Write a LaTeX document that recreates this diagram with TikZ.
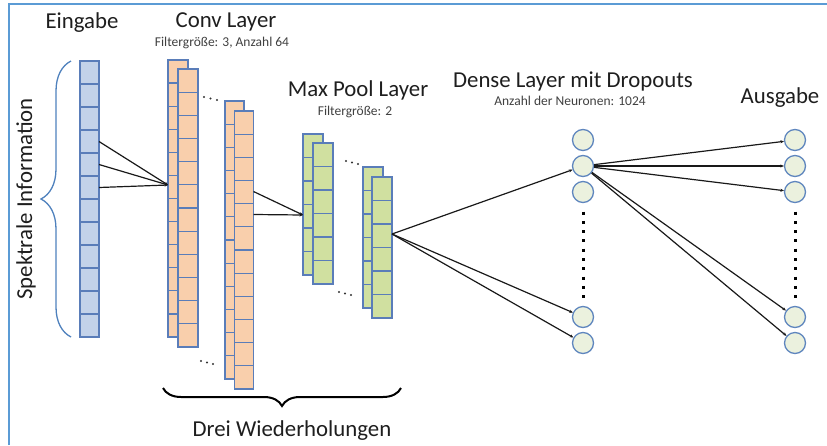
\documentclass[tikz,border=0pt]{standalone}
\usepackage{fontspec}
\setmainfont{Carlito}
\usetikzlibrary{arrows.meta,decorations.pathreplacing,calc}
\definecolor{frameblue}{HTML}{5B9BD5}
\definecolor{braceblue}{HTML}{4F81BD}
\definecolor{cellblue}{HTML}{5A7DB9}
\definecolor{infill}{HTML}{C3D2E9}
\definecolor{convfill}{HTML}{F9CFAC}
\definecolor{poolfill}{HTML}{D0E0A0}
\definecolor{neufill}{HTML}{EBF1DE}
\definecolor{neudraw}{HTML}{5F86BE}
\definecolor{txt}{HTML}{1E1E1E}
\definecolor{subtxt}{HTML}{404040}
\tikzset{
 colbox/.style={draw=cellblue, line width=1.3pt, inner sep=0pt, outer sep=0pt, anchor=north west},
 cellline/.style={draw=cellblue, line width=1.3pt},
 neuron/.style={circle, draw=neudraw, fill=neufill, line width=1.3pt, minimum size=21pt, inner sep=0pt},
 conn/.style={draw=black!90, line width=1.2pt},
 arr/.style={conn, -{Stealth[length=3.5pt,width=3pt]}},
 title/.style={font=\fontsize{22.8}{24}\selectfont, text=txt, anchor=base, inner sep=0pt},
 sub/.style={font=\fontsize{13.5}{15}\selectfont, text=subtxt, anchor=base, inner sep=0pt},
 dotcol/.style={line width=3pt, dash pattern=on 3pt off 6.3pt, draw=black},
}
\newcommand\cellcol[7]{%
 \node[colbox, fill=#7, minimum width=#4pt, minimum height=#5pt] (#1) at (#2,#3) {};
 \foreach \k in {1,...,#6} {\draw[cellline] ($(#1.north west)+(0,{\k*#5/(#6+1)})$) -- ($(#1.north east)+(0,{\k*#5/(#6+1)})$);}
}
\begin{document}
\begin{tikzpicture}[x=1pt,y=-1pt]
\useasboundingbox (0,0) rectangle (827,445);
\draw[frameblue, line width=1.5pt] (9,445) -- (9,4) -- (827,4);

% titles
\node[title] (tEin) at (82,28) {Eingabe};
\node[title] (tConv) at (226,27) {Conv Layer};
\node[sub] (sConv) at (222,46) {Filtergröße: 3, Anzahl 64};
\node[title] (tPool) at (358,96) {Max Pool Layer};
\node[sub] (sPool) at (355,115) {Filtergröße: 2};
\node[title] (tDense) at (573,87) {Dense Layer mit Dropouts};
\node[sub] (sDense) at (570,105) {Anzahl der Neuronen: 1024};
\node[title] (tAus) at (780,103) {Ausgabe};
\node[title] (tDrei) at (292,436) {Drei Wiederholungen};
\node[title, rotate=90] (tSpek) at (32,199) {Spektrale Information};

% input column and brace
\cellcol{inp}{80}{61}{19}{276}{11}{infill}
\draw[braceblue, line width=1.3pt, decorate, decoration={brace, amplitude=30pt}] (71,337) -- (71,61);

% conv columns
\cellcol{cb1}{168}{60}{20}{277}{11}{convfill}
\cellcol{cf1}{178}{69}{20}{278}{11}{convfill}
\cellcol{cb2}{225}{101}{19}{278}{11}{convfill}
\cellcol{cf2}{234.5}{111}{19}{278}{11}{convfill}
\foreach \x/\y in {204/97,210.5/98.5,217/100,201/361,207/362.5,213/364}{\fill[black!80] (\x,\y) circle[radius=1.1pt];}

% pool columns
\cellcol{pb1}{303}{134}{20}{141}{5}{poolfill}
\cellcol{pf1}{313}{143}{20}{141}{5}{poolfill}
\cellcol{pb2}{363}{167}{20}{141}{5}{poolfill}
\cellcol{pf2}{372}{177}{20}{141}{5}{poolfill}
\foreach \x/\y in {346/161,352/162.5,358/164,339/292,345/293.5,351/295}{\fill[black!80] (\x,\y) circle[radius=1.1pt];}

% bottom brace
\draw[black, line width=2pt, decorate, decoration={brace, amplitude=18pt}] (401,388) -- (163,388);

% neurons
\foreach \i/\y in {1/140,2/166,3/192,4/317,5/343}{
  \node[neuron] (d\i) at (583,\y) {};
  \node[neuron] (o\i) at (795,\y) {};
}
\draw[dotcol] (583,211.5) -- (583,300);
\draw[dotcol] (795,211.5) -- (795,300);

% connectors input -> conv
\coordinate (i1) at ($(inp.north east)+(0,80.5)$);
\coordinate (i2) at ($(inp.north east)+(0,103.5)$);
\coordinate (i3) at ($(inp.north east)+(0,126.5)$);
\coordinate (cin) at ($(cb1.north west)+(0,125)$);
\foreach \s in {i1,i2,i3}{\draw[arr] (\s) -- (cin);}

% conv -> pool
\coordinate (c1) at ($(cf2.north east)+(0,80.5)$);
\coordinate (c2) at ($(cf2.north east)+(0,103.5)$);
\coordinate (pin) at ($(pb1.north west)+(0,81)$);
\foreach \s in {c1,c2}{\draw[arr] (\s) -- (pin);}

% pool -> dense
\coordinate (pout) at ($(pf2.north east)+(0,57)$);
\foreach \t in {d2,d4,d5}{\draw[arr] (pout) -- (\t);}

% dense -> output
\foreach \t in {o1,o2,o3,o4,o5}{\draw[arr] (d2) -- (\t);}
\end{tikzpicture}
\end{document}
